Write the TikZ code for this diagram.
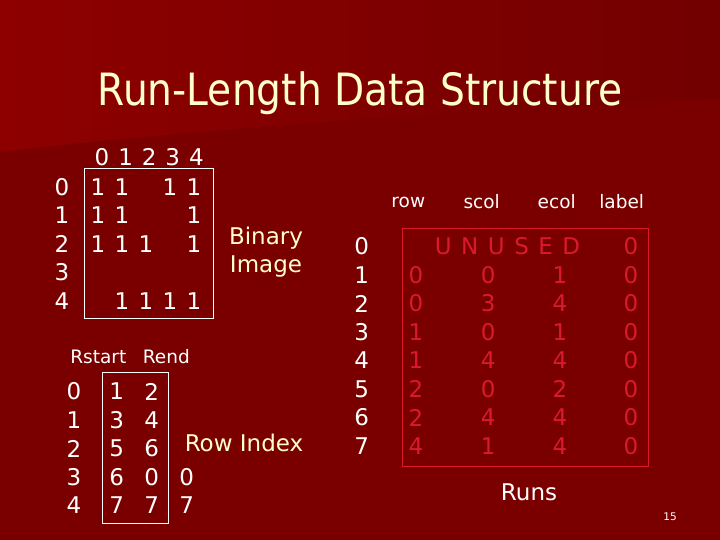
\documentclass[tikz,border=0pt]{standalone}
\usepackage{fontspec}
\setmainfont{DejaVu Sans}
\newfontfamily\titlefont{DejaVu Sans}[FakeStretch=0.88]
\definecolor{bgbase}{HTML}{7A0000}
\definecolor{bglight}{HTML}{8E0000}
\definecolor{bgright}{HTML}{720000}
\definecolor{cream}{HTML}{FFFFCC}
\definecolor{runred}{HTML}{DA1A2C}
\begin{document}
\begin{tikzpicture}[x=1pt,y=-1pt,
  dig/.style={text=white,font=\fontsize{23}{26}\selectfont,inner sep=0pt},
  rdig/.style={text=runred,font=\fontsize{23}{26}\selectfont,inner sep=0pt},
  hdr/.style={text=white,font=\fontsize{18.5}{22}\selectfont,inner sep=0pt},
  lab/.style={text=cream,font=\fontsize{23}{28}\selectfont,inner sep=0pt,align=center},
  wbox/.style={draw=white,line width=1pt,inner sep=0pt},
  rbox/.style={draw=runred,line width=1pt,inner sep=0pt}]
\useasboundingbox (0,0) rectangle (720,540);
\fill[bgbase] (0,0) rectangle (720,540);
\shade[left color=bglight,right color=bgright] (0,0) -- (720,0) -- (720,98)
  .. controls (500,108) and (200,128) .. (0,152) -- cycle;

% title
\node[text=cream,font=\titlefont\fontsize{44.5}{50}\selectfont,inner sep=0pt,anchor=base] (title) at (360,106) {Run-Length Data Structure};

% binary image
\node[wbox,minimum width=129pt,minimum height=150.7pt] (binbox) at (149,243.6) {};
\foreach \j in {0,...,4} \node[dig] (bh\j) at (102+23.6*\j,157) {\j};
\foreach \i in {0,...,4} \node[dig] (br\i) at (62,187+28.5*\i) {\i};
\foreach \i/\j in {0/0,0/1,0/3,0/4,1/0,1/1,1/4,2/0,2/1,2/2,2/4,4/1,4/2,4/3,4/4}
  \node[dig] (bv\i\j) at (98+24*\j,187+28.5*\i) {1};
\node[lab] (binlab) at (266,252) {Binary\\Image};

% row index
\node[hdr] (rstart) at (98.3,357) {Rstart};
\node[hdr] (rend) at (166.3,357) {Rend};
\node[wbox,minimum width=66pt,minimum height=151pt] (rowbox) at (135.3,447.8) {};
\foreach \i/\s/\e in {0/1/2,1/3/4,2/5/6,3/6/0,4/7/7}{
  \node[dig] (ri\i) at (74,391.5+28.5*\i) {\i};
  \node[dig] (rs\i) at (116.7,391.5+28.5*\i) {\s};
  \node[dig] (re\i) at (151.7,391.5+28.5*\i) {\e};
}
\node[dig] (rx3) at (186.7,477) {0};
\node[dig] (rx4) at (186.7,505.5) {7};
\node[lab] (rowlab) at (244,443) {Row Index};

% runs
\node[hdr] (hrow) at (408.3,202) {row};
\node[hdr] (hscol) at (481.7,202) {scol};
\node[hdr] (hecol) at (556.7,202) {ecol};
\node[hdr] (hlabel) at (621.7,202) {label};
\node[rbox,minimum width=246pt,minimum height=237.7pt] (runbox) at (525.3,347.2) {};
\foreach \i in {0,...,7} \node[dig] (ui\i) at (361.7,246.5+28.5*\i) {\i};
\node[rdig] (unused) at (507.5,246.5) {U\kern9.5pt N\kern9.5pt U\kern9.5pt S\kern9.5pt E\kern9.5pt D};
\node[rdig] (ul0) at (631,246.5) {0};
\foreach \i/\r/\s/\e/\l in {1/0/0/1/0,2/0/3/4/0,3/1/0/1/0,4/1/4/4/0,5/2/0/2/0,6/2/4/4/0,7/4/1/4/0}{
  \node[rdig] (ur\i) at (416,246.5+28.5*\i) {\r};
  \node[rdig] (us\i) at (488.3,246.5+28.5*\i) {\s};
  \node[rdig] (ue\i) at (560,246.5+28.5*\i) {\e};
  \node[rdig] (ul\i) at (631,246.5+28.5*\i) {\l};
}
\node[text=white,font=\fontsize{23}{28}\selectfont,inner sep=0pt] (runslab) at (529,492) {Runs};
\node[text=white,font=\fontsize{10.5}{12}\selectfont,inner sep=0pt] (pagenum) at (670,517) {15};
\end{tikzpicture}
\end{document}
